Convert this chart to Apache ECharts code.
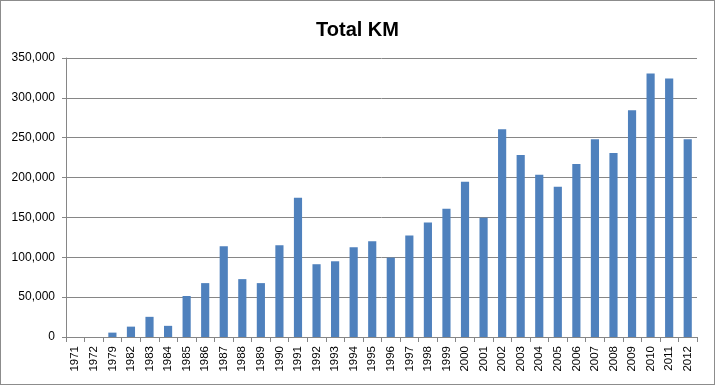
<!DOCTYPE html>
<html><head><meta charset="utf-8">
<script src="https://cdn.jsdelivr.net/npm/echarts@6/dist/echarts.min.js"></script>
<style>html,body{margin:0;padding:0;background:#fff}#c{width:715px;height:385px;box-sizing:border-box;border:1px solid #8c8c8c}</style>
</head><body><div id="c"></div>
<script>
var years = ['1971','1972','1979','1982','1983','1984','1985','1986','1987','1988','1989','1990','1991','1992','1993','1994','1995','1996','1997','1998','1999','2000','2001','2002','2003','2004','2005','2006','2007','2008','2009','2010','2011','2012'];
var totalKm = [0,0,5500,13000,25300,14000,51400,67600,113700,72600,67600,115000,174700,91300,95000,112500,120000,99600,127400,143600,161000,194700,149500,260700,228300,203400,188400,217100,248200,230800,284300,330400,324200,248200];
var chart = echarts.init(document.getElementById('c'));
chart.setOption({
  animation:false,
  title:{text:'Total KM',left:'center',top:14,textStyle:{fontFamily:'Liberation Sans, Arial',fontSize:20,fontWeight:'bold',color:'#000'}},
  grid:{left:65,right:17,top:57,bottom:47},
  xAxis:{type:'category',data:years,boundaryGap:true,
    axisLine:{lineStyle:{color:'#868686'}},
    axisTick:{show:true,length:5,alignWithLabel:false,lineStyle:{color:'#868686'}},
    axisLabel:{rotate:90,interval:0,fontFamily:'Liberation Sans, Arial',fontSize:11.5,color:'#000',margin:9}},
  yAxis:{type:'value',min:0,max:350000,interval:50000,
    axisLine:{show:true,lineStyle:{color:'#868686'}},
    axisTick:{show:true,length:4,lineStyle:{color:'#868686'}},
    splitLine:{lineStyle:{color:'#868686'}},
    axisLabel:{fontFamily:'Liberation Sans, Arial',fontSize:12,color:'#000',margin:11,
      formatter:function(v){return v.toLocaleString('en-US');}}},
  series:[{type:'bar',data:totalKm,barWidth:'44%',itemStyle:{color:'#4f81bd'}}]
});
</script></body></html>
